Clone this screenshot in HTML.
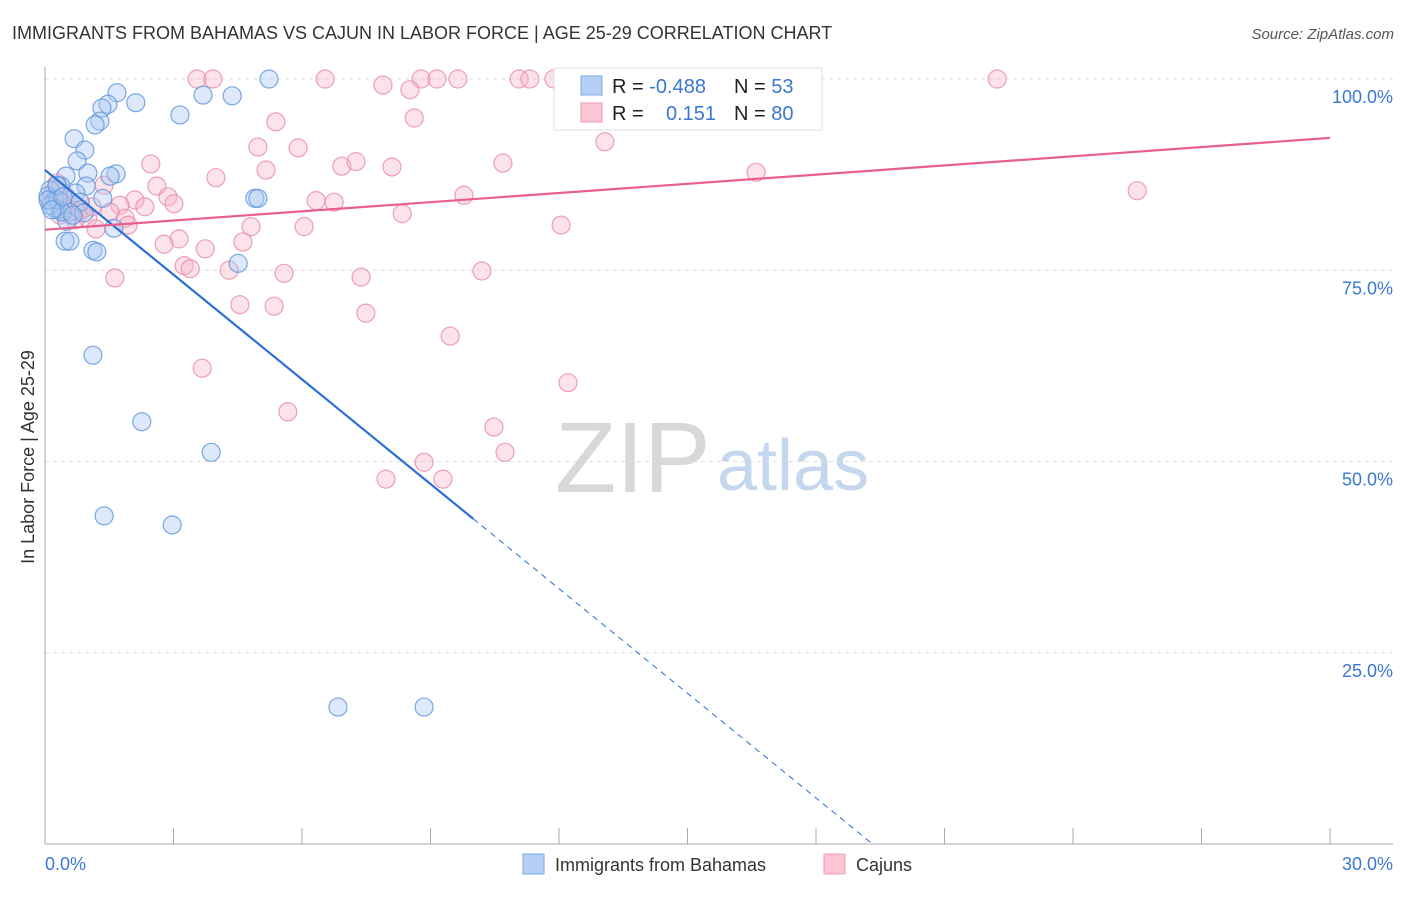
<!DOCTYPE html>
<html><head><meta charset="utf-8"><style>
body{margin:0;background:#fff;font-family:"Liberation Sans",sans-serif}
svg text{font-family:"Liberation Sans",sans-serif}
</style></head><body>
<svg id="c" width="1406" height="892">
<text x="12" y="39" font-size="18" fill="#333">IMMIGRANTS FROM BAHAMAS VS CAJUN IN LABOR FORCE | AGE 25-29 CORRELATION CHART</text>
<text x="1394" y="39" font-size="15" fill="#555" font-style="italic" text-anchor="end">Source: ZipAtlas.com</text>
<text x="0" y="0" transform="translate(34,457) rotate(-90)" font-size="18" fill="#333" text-anchor="middle">In Labor Force | Age 25-29</text>
<g><text x="555" y="492" font-size="100" font-family="Liberation Serif" fill="#d8d8d8">ZIP</text><text x="717" y="490" font-size="72" fill="#c5d7ee">atlas</text></g>
<g id="grid"></g><g id="axes"></g><g id="pts"></g><g id="lines"></g>
<g>
<rect x="554" y="68" width="268" height="62" fill="#fff" stroke="#ddd"/>
<rect x="581" y="76" width="21" height="19" fill="#b6d0f5" stroke="#7aa8e8"/>
<rect x="581" y="103" width="21" height="19" fill="#fbc5d4" stroke="#f09ab4"/>
<text x="612" y="93" font-size="20" fill="#222">R = <tspan fill="#3a78d4">-0.488</tspan></text>
<text x="734" y="93" font-size="20" fill="#222">N = <tspan fill="#3a78d4">53</tspan></text>
<text x="612" y="120" font-size="20" fill="#222">R = </text><text x="716" y="120" font-size="20" fill="#3a78d4" text-anchor="end">0.151</text>
<text x="734" y="120" font-size="20" fill="#222">N = <tspan fill="#3a78d4">80</tspan></text>
</g>
<g>
<rect x="523" y="854" width="21" height="20" fill="#b6d0f5" stroke="#7aa8e8"/>
<text x="555" y="871" font-size="18" fill="#333">Immigrants from Bahamas</text>
<rect x="824" y="854" width="21" height="20" fill="#fbc5d4" stroke="#f09ab4"/>
<text x="856" y="871" font-size="18" fill="#333">Cajuns</text>
</g>
</svg>
<script>
const blueX=[1.68,2.12,1.47,1.33,1.28,1.17,5.23,3.69,4.37,3.15,0.68,0.93,0.75,1.00,1.66,1.52,0.49,0.37,0.12,0.96,0.72,0.07,0.23,0.82,0.35,0.58,0.91,0.23,1.35,0.51,1.61,0.47,0.58,1.12,1.21,4.90,4.97,4.51,1.12,2.26,3.88,1.38,2.97,6.84,8.85,0.12,0.30,0.40,0.07,0.65,0.28,0.16,0.42];
const blueY=[98.2,96.9,96.7,96.2,94.5,94.0,100,97.9,97.8,95.3,92.2,90.7,89.3,87.7,87.6,87.3,87.3,86.0,85.5,86.0,85.1,84.7,84.2,83.9,82.9,82.6,82.5,83.1,84.4,81.4,80.5,78.8,78.8,77.6,77.4,84.4,84.4,75.9,63.9,55.2,51.2,42.9,41.7,17.9,17.9,83.5,84.2,82.6,84.2,82.2,86.1,82.9,84.6];
const pinkX=[3.55,3.92,6.54,7.89,8.78,9.15,9.64,11.07,11.32,11.88,14.92,22.23,8.52,5.39,8.62,4.97,5.91,13.07,2.47,3.99,5.16,6.93,7.26,8.10,10.69,16.60,25.50,2.61,1.38,2.87,3.01,2.10,2.33,1.75,6.33,6.75,9.78,8.34,4.81,6.05,12.05,0.77,1.00,1.87,1.94,1.19,3.13,2.78,3.74,4.62,3.25,3.39,4.30,5.58,7.38,10.20,1.63,4.55,5.35,7.49,9.46,12.21,3.67,5.67,10.48,10.74,8.85,7.96,9.29,0.23,0.47,0.12,0.58,0.35,0.86,1.10,1.52,0.70,0.28,0.42];
const pinkY=[100,100,100,99.2,100,100,100,100,100,100,100,100,98.6,94.4,94.9,91.1,91.0,91.8,88.9,87.1,88.1,88.6,89.2,88.5,89.0,87.8,85.4,86.0,86.1,84.6,83.7,84.2,83.3,83.5,84.1,83.9,84.8,82.4,80.7,80.7,80.9,82.6,81.8,81.8,80.9,80.4,79.1,78.4,77.8,78.7,75.6,75.2,75.0,74.6,74.1,74.9,74.0,70.5,70.3,69.4,66.4,60.3,62.2,56.5,54.5,51.2,49.9,47.7,47.7,85.5,84.8,84.2,83.5,82.2,82.9,83.3,82.6,81.6,86.4,83.1];
const yTicks=[25,50,75,100];
const yTickLabels=["25.0%","50.0%","75.0%","100.0%"];
const blueTrend=[88.1,-4.56];
const pinkTrend=[80.3,0.4];
const NS="http://www.w3.org/2000/svg";
const X=v=>45+v*(1285/30), Y=v=>844-v*7.65;
function mk(t,a,p){const e=document.createElementNS(NS,t);for(const k in a)e.setAttribute(k,a[k]);p.appendChild(e);return e;}
const grid=document.getElementById('grid'),axes=document.getElementById('axes'),pts=document.getElementById('pts'),lines=document.getElementById('lines');
yTicks.forEach((t,i)=>{
 const l=mk('line',{x1:45,x2:1393,y1:Y(t),y2:Y(t),stroke:'#ddd','stroke-dasharray':'4,4'},grid);
 
 
 const tx=mk('text',{x:1393,y:Y(t)+24,'font-size':18,fill:'#3a78d4','text-anchor':'end'},axes);tx.textContent=yTickLabels[i];
 
 
});
const ya=mk('line',{x1:45,x2:45,y1:67,y2:844,stroke:'#aaa'},axes);


const xa=mk('line',{x1:45,x2:1393,y1:844,y2:844,stroke:'#aaa'},axes);


for(let i=1;i<=10;i++){const t=mk('line',{x1:X(i*3),x2:X(i*3),y1:828,y2:844,stroke:'#aaa'},axes);
 
 }
const x0=mk('text',{x:45,y:870,'font-size':18,fill:'#3a78d4'},axes);x0.textContent='0.0%';


const x1=mk('text',{x:1393,y:870,'font-size':18,fill:'#3a78d4','text-anchor':'end'},axes);x1.textContent='30.0%';


function dots(xs,ys,fill,stroke,name){xs.forEach((v,i)=>{const c=mk('circle',{cx:X(v),cy:Y(ys[i]),r:9,fill:fill,'fill-opacity':0.4,stroke:stroke,'stroke-opacity':0.8,'stroke-width':1.2},pts);
 
 });}
dots(pinkX,pinkY,'#f7b6c9','#e88aa8','point-cajun');
dots(blueX,blueY,'#a9c9f2','#5b93dc','point-bahamas');
const bEnd=-blueTrend[0]/blueTrend[1];
const b1=mk('line',{x1:X(0),y1:Y(blueTrend[0]),x2:X(10),y2:Y(blueTrend[0]+blueTrend[1]*10),stroke:'#2a6fd6','stroke-width':2.2},lines);


const b2=mk('line',{x1:X(10),y1:Y(blueTrend[0]+blueTrend[1]*10),x2:X(bEnd),y2:Y(0),stroke:'#2a6fd6','stroke-width':1,'stroke-dasharray':'6,5'},lines);


const p1=mk('line',{x1:X(0),y1:Y(pinkTrend[0]),x2:X(30),y2:Y(pinkTrend[0]+pinkTrend[1]*30),stroke:'#e8608a','stroke-width':2.2},lines);


</script>
</body></html>
